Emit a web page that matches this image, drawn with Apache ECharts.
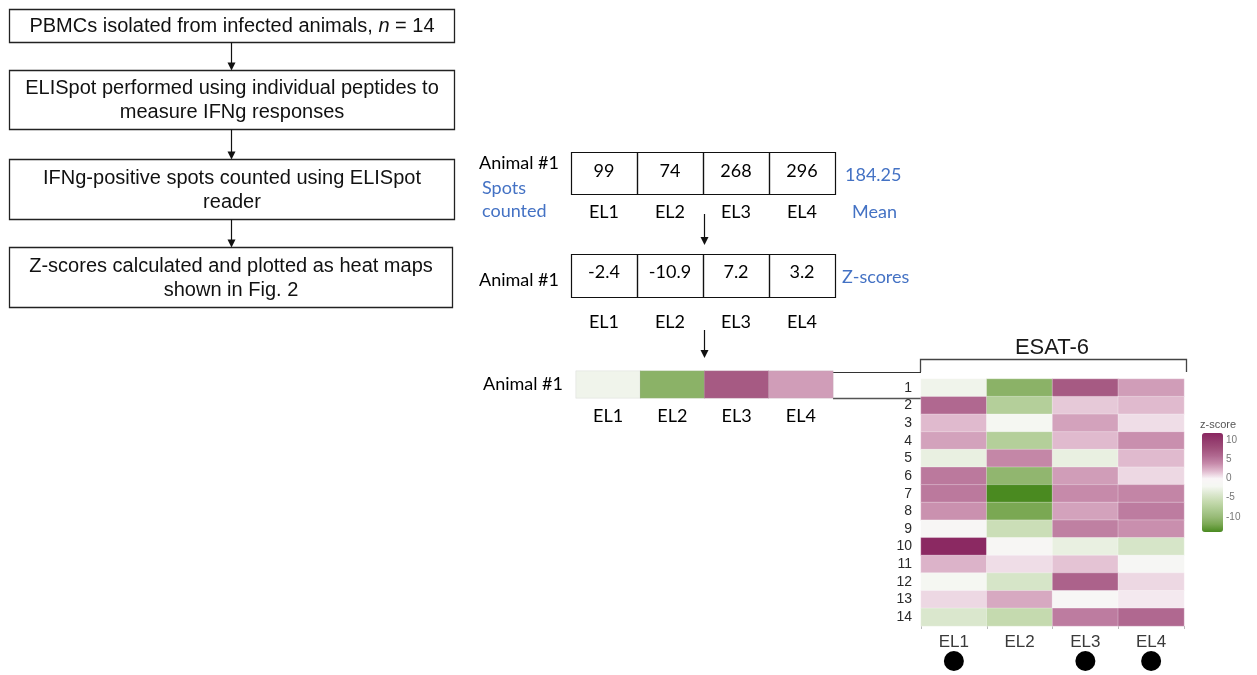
<!DOCTYPE html>
<html>
<head>
<meta charset="utf-8">
<script src="https://cdn.jsdelivr.net/npm/echarts@6/dist/echarts.min.js"></script>
<style>
  html, body { margin: 0; padding: 0; background: #ffffff; }
  #chart { width: 1257px; height: 675px; }
</style>
</head>
<body>
<div id="chart"></div>
<script>
// ---- data ----------------------------------------------------------------
const peptides = ['EL1', 'EL2', 'EL3', 'EL4'];
const animals = ['1', '2', '3', '4', '5', '6', '7', '8', '9', '10', '11', '12', '13', '14'];

// Animal #1 worked example
const spotsAnimal1 = [99, 74, 268, 296];
const zAnimal1 = [-2.4, -10.9, 7.2, 3.2];

// ESAT-6 z-scores, one row per animal (columns EL1..EL4); animal 1 is the worked example
const zRow2 = [6.0, -7.5, 1.5, 2.0];
const zRow3 = [2.0, -2.0, 3.0, 0.8];
const zRow4 = [3.0, -7.5, 2.0, 3.8];
const zRow5 = [-3.0, 4.2, -3.0, 2.0];
const zRow6 = [5.0, -10.5, 3.2, 1.0];
const zRow7 = [5.0, -14.0, 4.0, 4.3];
const zRow8 = [3.7, -12.0, 3.0, 4.8];
const zRow9 = [-1.0, -5.5, 4.6, 3.8];
const zRow10 = [11.7, -1.2, -3.0, -4.5];
const zRow11 = [2.3, 0.8, 1.7, -1.3];
const zRow12 = [-2.0, -4.5, 6.5, 1.0];
const zRow13 = [1.0, 2.7, -1.0, 0.4];
const zRow14 = [-4.2, -6.0, 4.8, 6.0];
const esat6Rows = [zAnimal1, zRow2, zRow3, zRow4, zRow5, zRow6, zRow7, zRow8,
                   zRow9, zRow10, zRow11, zRow12, zRow13, zRow14];

// peptides flagged with a dot under the heat map
const markedPeptides = ['EL1', 'EL3', 'EL4'];

// colour bar
const zMin = -14, zMax = 12;
const legendTicks = [-10, -5, 0, 5, 10];

// workflow steps
const flowSteps = [
  'PBMCs isolated from infected animals, {i|n} = 14',
  'ELISpot performed using individual peptides to\nmeasure IFNg responses',
  'IFNg-positive spots counted using ELISpot\nreader',
  'Z-scores calculated and plotted as heat maps\nshown in Fig. 2'
];

// ---- derived --------------------------------------------------------------
const meanSpots = spotsAnimal1.reduce((a, b) => a + b, 0) / spotsAnimal1.length;
const stripData = zAnimal1.map((v, i) => [i, 0, v]);
const heatData = [];
esat6Rows.forEach((row, r) => row.forEach((v, c) => heatData.push([c, r, v])));

// PiYG-like ramp from -14 to 12, one stop every 2 units
const zColours = ['#4a8a20', '#7aa853', '#98bb78', '#aecb93', '#c5daaf', '#dce8d0',
                  '#f5f7f2', '#f9f5f7', '#e0bace', '#c68aaa', '#b06890', '#a0507b',
                  '#933b6d', '#8a2660'];

// ---- layout of the drawn diagram --------------------------------------------
const ARIAL = '"Liberation Sans", Arial, sans-serif';
const CALI = 'Lato, "Open Sans", sans-serif';
const BLUE = '#4472c4';
const graphics = [];

function arrow(x, y0, y1) {
  graphics.push({ type: 'line', shape: { x1: x, y1: y0, x2: x, y2: y1 - 6 },
                  style: { stroke: '#111', lineWidth: 1.2 } });
  graphics.push({ type: 'polygon', shape: { points: [[x - 4, y1 - 8], [x + 4, y1 - 8], [x, y1]] },
                  style: { fill: '#111' } });
}
function text(str, x, y, opt) {
  graphics.push({ type: 'text', x: x, y: y, style: Object.assign({
    text: str, fontFamily: CALI, fontSize: 18, fill: '#000', align: 'center', verticalAlign: 'middle'
  }, opt || {}) });
}

// workflow boxes
const flowBoxes = [[9.5, 9.5, 445, 33], [9.5, 70.5, 445, 59], [9.5, 159.5, 445, 60], [9.5, 247.5, 443, 60]];
flowBoxes.forEach((b, i) => {
  graphics.push({ type: 'rect', shape: { x: b[0], y: b[1], width: b[2], height: b[3] },
                  style: { fill: '#fff', stroke: '#222', lineWidth: 1.3 } });
  text(flowSteps[i], b[0] + b[2] / 2, b[1] + b[3] / 2 + 0.5, {
    fontFamily: ARIAL, fontSize: 20, lineHeight: 24, fill: '#111',
    rich: { i: { fontFamily: ARIAL, fontSize: 20, fontStyle: 'italic', fill: '#111' } }
  });
  if (i > 0) arrow(231.5, flowBoxes[i - 1][1] + flowBoxes[i - 1][3], b[1]);
});

// spot-count and z-score tables
const tabLeft = 571, colW = 66;
function table(values, top, h, valueDy) {
  values.forEach((v, i) => {
    graphics.push({ type: 'rect', shape: { x: tabLeft + i * colW + 0.5, y: top + 0.5, width: colW, height: h },
                    style: { fill: 'none', stroke: '#111', lineWidth: 1.2 } });
    text(String(v), tabLeft + i * colW + colW / 2, top + h / 2 + valueDy);
  });
}
table(spotsAnimal1, 152, 42, -2);
table(zAnimal1, 254, 43, -3);
peptides.forEach((p, i) => {
  text(p, tabLeft + i * colW + colW / 2, 212);
  text(p, tabLeft + i * colW + colW / 2, 322);
});
text('Animal #1', 479, 163, { align: 'left' });
text('Spots', 482, 188, { align: 'left', fill: BLUE });
text('counted', 482, 211, { align: 'left', fill: BLUE });
text(String(meanSpots), 845, 175, { align: 'left', fill: BLUE });
text('Mean', 852, 212, { align: 'left', fill: BLUE });
text('Animal #1', 479, 280, { align: 'left' });
text('Z-scores', 842, 277, { align: 'left', fill: BLUE });
arrow(704.5, 214, 245);
arrow(704.5, 330, 358);

// connector from the single-animal strip to row 1 of the heat map
graphics.push({ type: 'polyline', shape: { points: [[833, 372.5], [921, 372.5]] },
                style: { stroke: '#333', lineWidth: 1 } });
graphics.push({ type: 'polyline', shape: { points: [[833, 398.5], [921, 398.5]] },
                style: { stroke: '#555', lineWidth: 1.4 } });

// ESAT-6 bracket
graphics.push({ type: 'polyline', shape: { points: [[920.5, 372], [920.5, 359.5], [1186.5, 359.5], [1186.5, 372]] },
                style: { stroke: '#444', lineWidth: 1.3 } });
text('ESAT-6', 1052, 348, { fontFamily: ARIAL, fontSize: 22, fill: '#1a1a1a' });
text('z-score', 1200, 425, { fontFamily: ARIAL, fontSize: 11, fill: '#555', align: 'left' });

// ---- chart ----------------------------------------------------------------
const chart = echarts.init(document.getElementById('chart'), null, { renderer: 'canvas' });
const hmLeft = 921, hmTop = 379, hmW = 263, hmH = 247;

chart.setOption({
  animation: false,
  backgroundColor: '#fff',
  grid: [
    { left: 576, top: 371, width: 257, height: 27 },            // Animal #1 strip
    { left: hmLeft, top: hmTop, width: hmW, height: hmH },       // ESAT-6 heat map
    { left: hmLeft, top: 651, width: hmW, height: 20 },          // marker dots
    { left: 1202, top: 433, width: 21, height: 99 }              // colour-bar scale
  ],
  xAxis: [
    { gridIndex: 0, type: 'category', data: peptides, position: 'bottom',
      axisLine: { show: false }, axisTick: { show: false }, splitLine: { show: false },
      axisLabel: { fontFamily: CALI, fontSize: 18, color: '#000', margin: 9 } },
    { gridIndex: 1, type: 'category', data: peptides, position: 'bottom',
      axisLine: { show: false }, axisTick: { show: true, length: 3, lineStyle: { color: '#bbb' } },
      splitLine: { show: false },
      axisLabel: { fontFamily: ARIAL, fontSize: 17, color: '#3a3a3a', margin: 8 } },
    { gridIndex: 2, type: 'category', data: peptides, show: false },
    { gridIndex: 3, type: 'value', show: false }
  ],
  yAxis: [
    { gridIndex: 0, type: 'category', data: ['Animal #1'],
      axisLine: { show: false }, axisTick: { show: false }, splitLine: { show: false },
      axisLabel: { fontFamily: CALI, fontSize: 18, color: '#000', margin: 13 } },
    { gridIndex: 1, type: 'category', data: animals, inverse: true,
      axisLine: { show: false }, axisTick: { show: false }, splitLine: { show: false },
      axisLabel: { interval: 0, fontFamily: ARIAL, fontSize: 14, color: '#2a2a2a', margin: 9 } },
    { gridIndex: 2, type: 'category', data: ['marked'], show: false },
    { gridIndex: 3, type: 'value', min: zMin, max: zMax, position: 'right',
      axisLine: { show: false }, axisTick: { show: false }, splitLine: { show: false },
      axisLabel: { customValues: legendTicks, fontFamily: ARIAL, fontSize: 10, color: '#777', margin: 3 } }
  ],
  visualMap: {
    type: 'continuous', min: zMin, max: zMax, calculable: false, seriesIndex: [0, 1],
    orient: 'vertical', left: 1202, top: 433, itemWidth: 21, itemHeight: 99, padding: 0,
    text: null, showLabel: false, inRange: { color: zColours }
  },
  series: [
    { type: 'heatmap', xAxisIndex: 0, yAxisIndex: 0, data: stripData,
      itemStyle: { borderColor: 'rgba(190,190,190,0.35)', borderWidth: 0.6 } },
    { type: 'heatmap', xAxisIndex: 1, yAxisIndex: 1, data: heatData,
      itemStyle: { borderColor: 'rgba(255,255,255,0.3)', borderWidth: 1 } },
    { type: 'scatter', xAxisIndex: 2, yAxisIndex: 2, symbol: 'circle', symbolSize: 20,
      data: markedPeptides.map(p => [p, 'marked']),
      itemStyle: { color: '#000', opacity: 1, borderWidth: 0 } }
  ],
  graphic: graphics
});
</script>
</body>
</html>
